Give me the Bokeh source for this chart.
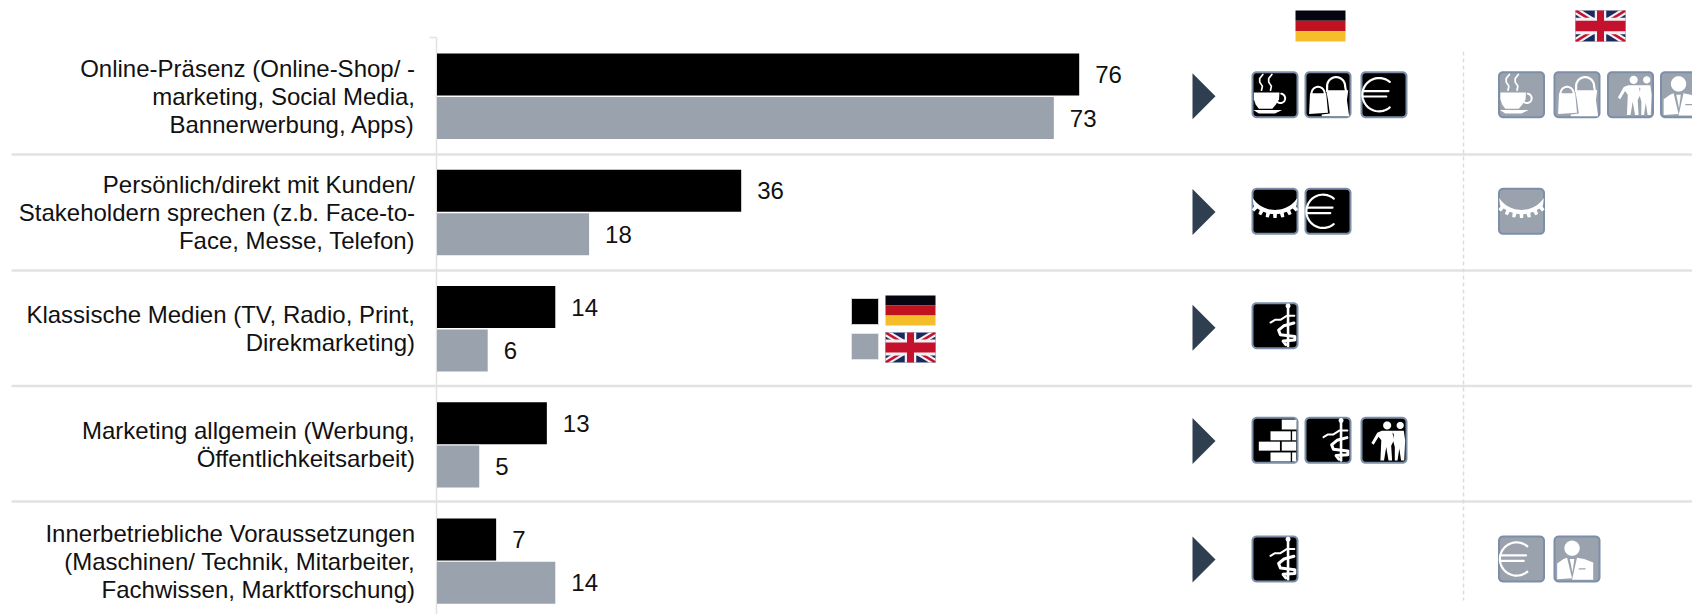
import math
from bokeh.core.properties import value
from bokeh.embed import file_html
from bokeh.models import ColumnDataSource, Range1d
from bokeh.plotting import figure
from bokeh.resources import INLINE

# Survey answers, in percent
categories = [
    ["Online-Präsenz (Online-Shop/ -", "marketing, Social Media,", "Bannerwerbung, Apps)"],
    ["Persönlich/direkt mit Kunden/", "Stakeholdern sprechen (z.b. Face-to-", "Face, Messe, Telefon)"],
    ["Klassische Medien (TV, Radio, Print,", "Direkmarketing)"],
    ["Marketing allgemein (Werbung,", "Öffentlichkeitsarbeit)"],
    ["Innerbetriebliche Voraussetzungen", "(Maschinen/ Technik, Mitarbeiter,", "Fachwissen, Marktforschung)"],
]
germany = [76, 36, 14, 13, 7]
britain = [73, 18, 6, 5, 14]

# Sector pictograms listed for each answer
germany_icons = [
    ["cup", "bags", "euro"],
    ["gear", "euro"],
    ["staff"],
    ["bricks", "staff", "people"],
    ["staff"],
]
britain_icons = [
    ["cup", "bags", "people", "person"],
    ["gear"],
    [],
    [],
    ["euro", "person"],
]

BLACK = "#000000"
GREY = "#9aa3ad"
RULE = "#e2e2e2"
EDGE = "#7c8ea8"
DARK = "#2f3f50"
FONT = "Liberation Sans"
FONT_SIZE = "24px"

W, H = 1692, 614
ZERO_X = 436.5
UNIT = 8.45
ROW0 = 95.8
ROW_STEP = 116.2
BAR_H = 42 / ROW_STEP
BAR_SHIFT = 21.7 / ROW_STEP

p = figure(
    width=W, height=H, output_backend="svg", toolbar_location=None,
    x_range=Range1d(-ZERO_X / UNIT, (W - ZERO_X) / UNIT),
    y_range=Range1d((H - ROW0) / ROW_STEP, -ROW0 / ROW_STEP),
    x_axis_location=None, y_axis_location=None, min_border=0,
    outline_line_color=None, background_fill_color="white", border_fill_color="white",
)
p.grid.visible = False
# A second, pixel-sized coordinate system for the furniture around the bars
p.extra_x_ranges["px"] = Range1d(0, W)
p.extra_y_ranges["px"] = Range1d(H, 0)
PX = dict(x_range_name="px", y_range_name="px")


def poly(xs, ys, color, **kw):
    p.patch(xs, ys, fill_color=color, line_color=kw.pop("line_color", None), **PX, **kw)


def path(xs, ys, color, width):
    p.line(xs, ys, line_color=color, line_width=width, line_cap="round", line_join="round", **PX)


def circle_pts(cx, cy, r, start=0.0, stop=360.0, n=40):
    angs = [math.radians(start + (stop - start) * i / n) for i in range(n + 1)]
    return [cx + r * math.cos(a) for a in angs], [cy + r * math.sin(a) for a in angs]


# --- rules -----------------------------------------------------------------
for y in [154, 270, 385.5, 501]:
    path([12, W], [y, y], RULE, 2.5)
p.line([436, 436], [37, H], line_color=RULE, line_width=1.5, **PX)
p.line([429, 436], [37, 37], line_color=RULE, line_width=1.5, **PX)
p.line([1463, 1463], [51, 600], line_color="#dcdcdc", line_width=1.5, line_dash="4 3", **PX)

# --- bars ------------------------------------------------------------------
rows = list(range(len(categories)))
de_src = ColumnDataSource(dict(y=[r - BAR_SHIFT for r in rows], v=germany, t=[str(v) for v in germany]))
uk_src = ColumnDataSource(dict(y=[r + BAR_SHIFT for r in rows], v=britain, t=[str(v) for v in britain]))
p.hbar(y="y", right="v", left=0, height=BAR_H, source=de_src, fill_color=BLACK, line_color=None)
p.hbar(y="y", right="v", left=0, height=BAR_H, source=uk_src, fill_color=GREY, line_color=None)
for src in (de_src, uk_src):
    p.text(x="v", y="y", text="t", source=src, x_offset=16, text_baseline="middle",
           text_font=value(FONT), text_font_size=FONT_SIZE, text_color="#111111")

# --- row labels ------------------------------------------------------------
lx, ly, lt, loff = [], [], [], []
for r, lines in enumerate(categories):
    for i, line in enumerate(lines):
        lx.append(0)
        ly.append(r)
        lt.append(line)
        loff.append((i - (len(lines) - 1) / 2) * 28)
p.text(x="x", y="y", text="t", y_offset="o", x_offset=-22,
       source=ColumnDataSource(dict(x=lx, y=ly, t=lt, o=loff)),
       text_align="right", text_baseline="middle",
       text_font=value(FONT), text_font_size=FONT_SIZE, text_color="#111111")


# --- flags -----------------------------------------------------------------
def flag_de(x0, y0, w, h):
    for i, c in enumerate(["#05050f", "#c1121f", "#f6bd2b"]):
        a, b = y0 + h * i / 3, y0 + h * (i + 1) / 3
        poly([x0, x0 + w, x0 + w, x0], [a, a, b, b], c)


def flag_uk(x0, y0, w, h):
    x1, y1 = x0 + w, y0 + h
    poly([x0, x1, x1, x0], [y0, y0, y1, y1], "#1b2a5c")

    def diag(dw, dh, c):
        poly([x0, x0 + dw, x1, x1, x1 - dw, x0], [y0, y0, y1 - dh, y1, y1, y0 + dh], c)
        poly([x1, x1 - dw, x0, x0, x0 + dw, x1], [y0, y0, y1 - dh, y1, y1, y0 + dh], c)

    diag(w * 0.13, h * 0.13, "#f2f0f2")
    diag(w * 0.05, h * 0.05, "#c4122e")
    cx, cy = (x0 + x1) / 2, (y0 + y1) / 2
    for hw, hh, c in [(w * 0.115, h * 0.27, "#f2f0f2"), (w * 0.07, h * 0.17, "#c4122e")]:
        poly([cx - hw, cx + hw, cx + hw, cx - hw], [y0, y0, y1, y1], c)
        poly([x0, x1, x1, x0], [cy - hh, cy - hh, cy + hh, cy + hh], c)


flag_de(1295, 10, 50, 31)
flag_uk(1575, 10, 50, 31)

# --- legend ----------------------------------------------------------------
poly([851, 878, 878, 851], [298, 298, 324, 324], BLACK, line_color="#cfcfcf", line_width=1)
poly([851, 878, 878, 851], [333, 333, 359, 359], GREY, line_color="#e2e4e8", line_width=1)
flag_de(885, 295, 50, 30)
flag_uk(885, 332, 50, 30)


# --- pictograms (unit square, y pointing down) -----------------------------
def icon(kind, x0, y0, bg, size=45):
    def X(v):
        return [x0 + a * size for a in v]

    def Y(v):
        return [y0 + a * size for a in v]

    def shape(pts, color="white"):
        poly(X([a for a, _ in pts]), Y([b for _, b in pts]), color)

    def stroke(pts, width, color="white"):
        path(X([a for a, _ in pts]), Y([b for _, b in pts]), color, width)

    def arc(cx, cy, r, start, stop, width):
        xs, ys = circle_pts(cx, cy, r, start, stop)
        stroke(list(zip(xs, ys)), width)

    def disc(cx, cy, r):
        xs, ys = circle_pts(cx, cy, r)
        shape(list(zip(xs, ys)))

    # rounded tile
    r = 0.09
    ring = []
    for cx, cy, a0 in [(1 - r, r, -90), (1 - r, 1 - r, 0), (r, 1 - r, 90), (r, r, 180)]:
        xs, ys = circle_pts(cx, cy, r, a0, a0 + 90, 6)
        ring += list(zip(xs, ys))
    poly(X([a for a, _ in ring]), Y([b for _, b in ring]), bg, line_color=EDGE, line_width=2)

    if kind == "cup":
        for dx in (0.0, 0.2):
            stroke([(0.23 + dx, 0.05), (0.16 + dx, 0.14), (0.16 + dx, 0.22), (0.22 + dx, 0.31), (0.2 + dx, 0.4)], 1.7)
        shape([(0.03, 0.45), (0.6, 0.45), (0.59, 0.6), (0.52, 0.72), (0.44, 0.81), (0.14, 0.81), (0.07, 0.72), (0.03, 0.6)])
        arc(0.62, 0.58, 0.105, -80, 130, 2)
        shape([(0.02, 0.84), (0.66, 0.84), (0.5, 0.92), (0.14, 0.92)])
    elif kind == "bags":
        shape([(0.1, 0.47), (0.46, 0.47), (0.5, 0.9), (0.08, 0.93)])
        arc(0.28, 0.47, 0.145, 180, 360, 2)
        shape([(0.46, 0.4), (0.95, 0.4), (0.92, 0.62), (0.97, 0.98), (0.36, 0.98), (0.36, 0.94), (0.54, 0.92), (0.5, 0.62)])
        arc(0.68, 0.31, 0.2, 180, 360, 2.2)
        stroke([(0.48, 0.31), (0.48, 0.42)], 2.2)
        stroke([(0.88, 0.31), (0.9, 0.42)], 2.2)
    elif kind == "euro":
        arc(0.39, 0.5, 0.37, 50, 310, 2.2)
        stroke([(0.03, 0.42), (0.6, 0.42)], 2.2)
        stroke([(0.03, 0.54), (0.55, 0.54)], 2.2)
    elif kind == "gear":
        cy, inner, outer, tooth = -0.128, 0.598, 0.69, 0.78
        pts = list(zip(*circle_pts(0.5, cy, inner, 146, 34, 24)))
        low = []
        n = 7
        a0, a1 = 45.0, 135.0
        s = (a1 - a0) / n
        for i in range(n):
            a = a0 + i * s
            for ang, rad in [(a, outer), (a + 0.22 * s, outer), (a + 0.3 * s, tooth),
                             (a + 0.7 * s, tooth), (a + 0.78 * s, outer)]:
                low.append((0.5 + rad * math.cos(math.radians(ang)), cy + rad * math.sin(math.radians(ang))))
        shape(pts + [(0.98, 0.36)] + low + [(0.02, 0.36)])
    elif kind == "staff":
        stroke([(0.79, 0.07), (0.79, 0.95)], 2.6)
        disc(0.79, 0.06, 0.055)
        stroke([(0.4, 0.43), (0.5, 0.37), (0.62, 0.37), (0.76, 0.28), (0.93, 0.28)], 2)
        stroke([(0.92, 0.44), (0.7, 0.5), (0.58, 0.6), (0.62, 0.7), (0.94, 0.74), (0.94, 0.82), (0.68, 0.84), (0.74, 0.92)], 3)
    elif kind == "bricks":
        for a, b, c, d in [(0.65, 0.98, 0.04, 0.26), (0.4, 0.85, 0.3, 0.5), (0.88, 0.97, 0.3, 0.5),
                           (0.14, 0.61, 0.53, 0.73), (0.65, 0.97, 0.53, 0.73),
                           (0.4, 0.85, 0.77, 0.97), (0.88, 0.97, 0.77, 0.97)]:
            shape([(a, c), (b, c), (b, d), (a, d)])
    elif kind == "people":
        disc(0.57, 0.17, 0.09)
        disc(0.86, 0.17, 0.08)
        shape([(0.45, 0.29), (0.68, 0.29), (0.72, 0.5), (0.66, 0.62), (0.68, 0.95), (0.6, 0.95), (0.55, 0.65),
               (0.5, 0.95), (0.42, 0.95), (0.44, 0.5), (0.38, 0.42), (0.27, 0.6), (0.22, 0.56), (0.35, 0.33)])
        shape([(0.68, 0.29), (0.94, 0.29), (0.97, 0.5), (0.95, 0.95), (0.88, 0.95), (0.84, 0.68), (0.8, 0.95),
               (0.74, 0.95), (0.74, 0.65), (0.7, 0.5), (0.72, 0.36), (0.68, 0.33)])
    elif kind == "person":
        disc(0.39, 0.26, 0.17)
        shape([(0.06, 0.6), (0.2, 0.5), (0.28, 0.47), (0.39, 0.93), (0.06, 0.95)])
        shape([(0.5, 0.47), (0.66, 0.5), (0.86, 0.58), (0.86, 0.96), (0.39, 0.96)])
        shape([(0.34, 0.5), (0.44, 0.5), (0.4, 0.8)])
        stroke([(0.55, 0.72), (0.68, 0.72)], 1.2, bg)


# --- right-hand columns ----------------------------------------------------
tile_tops = [71.7, 188.3, 302.7, 417.3, 536]
arrow_mids = [95.8, 211.5, 327.3, 440.5, 559]
de_slots = [1252, 1305, 1361]
uk_slots = [1498.5, 1554, 1607.5, 1660.5]
for r in rows:
    my = arrow_mids[r]
    poly([1192, 1215, 1192], [my - 23, my, my + 23], DARK)
    for slot, kind in zip(de_slots, germany_icons[r]):
        icon(kind, slot, tile_tops[r], BLACK)
    for slot, kind in zip(uk_slots, britain_icons[r]):
        icon(kind, slot, tile_tops[r], GREY)

open("out.html", "w").write(file_html(p, INLINE))
